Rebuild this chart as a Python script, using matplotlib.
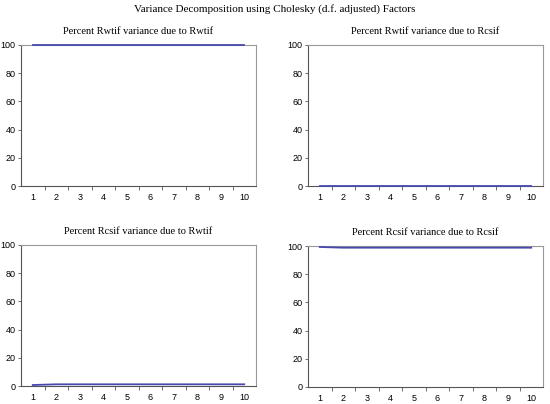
import matplotlib
matplotlib.use("Agg")
import matplotlib.pyplot as plt
import numpy as np

periods = [1, 2, 3, 4, 5, 6, 7, 8, 9, 10]
rwtif_rwtif = [100, 100, 100, 100, 100, 100, 100, 100, 100, 100]
rwtif_rcsif = [0, 0, 0, 0, 0, 0, 0, 0, 0, 0]
rcsif_rwtif = [0.7, 1.2, 1.2, 1.2, 1.2, 1.2, 1.2, 1.2, 1.2, 1.2]
rcsif_rcsif = [99.3, 98.8, 98.8, 98.8, 98.8, 98.8, 98.8, 98.8, 98.8, 98.8]

titles = [
    "Percent Rwtif variance due to Rwtif",
    "Percent Rwtif variance due to Rcsif",
    "Percent Rcsif variance due to Rwtif",
    "Percent Rcsif variance due to Rcsif",
]
series = [rwtif_rwtif, rwtif_rcsif, rcsif_rwtif, rcsif_rcsif]

W, H = 550, 404
fig = plt.figure(figsize=(W / 100, H / 100), dpi=100)

# axes boxes in pixels: left, top, right, bottom
boxes = [
    (21, 45, 256, 186),
    (308, 45, 543, 186),
    (21, 245, 256, 386),
    (308, 246, 543, 387),
]

fig.text(0.5, 1 - 9 / H, "Variance Decomposition using Cholesky (d.f. adjusted) Factors",
         ha="center", va="center", family="Liberation Serif", fontsize=8)

for (l, t, r, b), title, vals in zip(boxes, titles, series):
    ax = fig.add_axes([l / W, 1 - b / H, (r - l) / W, (b - t) / H])
    ax.plot(periods, vals, color="#4848b0", lw=1.3, clip_on=False, zorder=5)
    ax.set_xlim(0.5, 10.5)
    ax.set_ylim(0, 100)
    ax.set_yticks([0, 20, 40, 60, 80, 100])
    ax.set_xticks(periods)
    ax.set_xticks(np.arange(1.5, 10.5, 1), minor=True)
    ax.tick_params(axis="x", which="major", length=0, pad=5, labelsize=6.5)
    ax.tick_params(axis="x", which="minor", length=3, width=0.6, color="#555555")
    ax.tick_params(axis="y", length=2.5, width=0.6, pad=1.5, labelsize=6.5, color="#555555")
    for lab in ax.get_xticklabels() + ax.get_yticklabels():
        lab.set_family("Liberation Sans")
    for s in ["top", "right"]:
        ax.spines[s].set_color("#999999")
        ax.spines[s].set_linewidth(0.8)
    for s in ["left", "bottom"]:
        ax.spines[s].set_color("#555555")
        ax.spines[s].set_linewidth(0.8)
    ax.set_title(title, family="Liberation Serif", fontsize=7.5, pad=8)

fig.savefig("out.png", dpi=100, facecolor="white")
